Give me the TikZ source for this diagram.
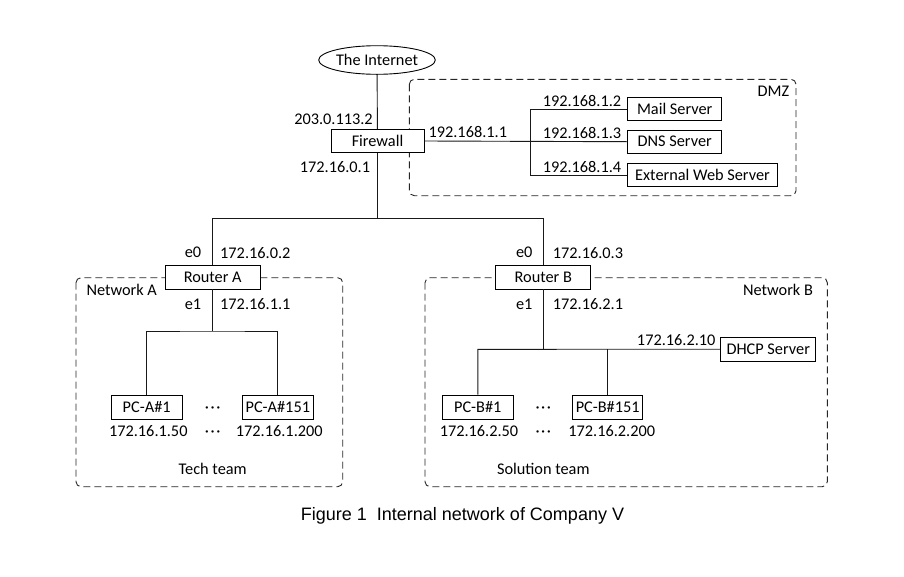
\documentclass[tikz,border=0pt]{standalone}
\usepackage{fontspec}
\setmainfont{Carlito}
\newfontfamily\capfont{Liberation Sans}
\usetikzlibrary{shapes.geometric}
\newcommand{\mydots}{\vphantom{1}·\kern1.6pt·\kern1.6pt·}
\begin{document}
\begin{tikzpicture}[x=1pt,y=-1pt,
  font=\fontsize{16.3}{19}\selectfont,
  box/.style={draw=black,fill=white,line width=0.9pt,inner sep=0pt,minimum height=23.5pt},
  lbl/.style={inner sep=0pt},
  conn/.style={draw=black!90,line width=0.9pt},
  zone/.style={draw=black!85,line width=0.9pt,dash pattern=on 7pt off 4pt,rounded corners=5pt}]
\useasboundingbox (0,0) rectangle (904,576);
% zones
\draw[zone] (409.3,79.3) rectangle (796,195.7);
\draw[zone] (76,277.7) rectangle (342.7,486.7);
\draw[zone] (425,277.7) rectangle (827.3,486.7);
% nodes
\node[ellipse,draw=black,line width=0.9pt,minimum width=116.6pt,minimum height=28.6pt,inner sep=0pt] (inet) at (377,60) {The Internet};
\node[box,minimum width=93pt] (fw) at (377.5,141) {Firewall};
\node[box,minimum width=94pt] (mail) at (674.7,109) {Mail Server};
\node[box,minimum width=94pt] (dns) at (674.7,141.7) {DNS Server};
\node[box,minimum width=149.6pt] (web) at (702.5,175) {External Web Server};
\node[box,minimum width=95pt,minimum height=24pt] (ra) at (212.7,277) {Router A};
\node[box,minimum width=95pt,minimum height=24pt] (rb) at (543.3,277) {Router B};
\node[box,minimum width=71pt,minimum height=24pt] (pa1) at (146.7,407) {PC-A\#1};
\node[box,minimum width=71pt,minimum height=24pt] (pa2) at (277.8,407) {PC-A\#151};
\node[box,minimum width=71pt,minimum height=24pt] (pb1) at (477.8,407) {PC-B\#1};
\node[box,minimum width=70pt,minimum height=24pt] (pb2) at (607.7,407) {PC-B\#151};
\node[box,minimum width=95pt] (dhcp) at (768.2,349.2) {DHCP Server};
% coordinates
\coordinate (bus) at (377.5,218.3);
\coordinate (dmzx) at (530,142);
\coordinate (ja) at (212.7,331);
\coordinate (jb) at (543.3,349.3);
% connectors
\draw[conn] (inet) -- (fw);
\draw[conn] (fw.south) -- (bus);
\draw[conn] (ra.north) |- (bus) -| (rb.north);
\draw[conn] (fw.east) -- (dns.west);
\draw[conn] (mail.west) -- (mail.west -| dmzx) -- (web.west -| dmzx) -- (web.west);
\draw[conn] (ra.south) -- (ja);
\draw[conn] (pa1.north) |- (ja) -| (pa2.north);
\draw[conn] (rb.south) -- (jb);
\draw[conn] (pb1.north) |- (jb) -- (dhcp.west);
\draw[conn] (pb2.north) -- (pb2.north |- jb);
% labels
\node[lbl] (l1) at (333.5,119.3) {203.0.113.2};
\node[lbl] (l2) at (335,167.3) {172.16.0.1};
\node[lbl] (l3) at (467.8,131.7) {192.168.1.1};
\node[lbl] (l4) at (582,100.7) {192.168.1.2};
\node[lbl] (l5) at (582,133.3) {192.168.1.3};
\node[lbl] (l6) at (582,166.7) {192.168.1.4};
\node[lbl] (dmz) at (773.5,91.7) {DMZ};
\node[lbl] (a0) at (193,252.7) {e0};
\node[lbl] (a0ip) at (255.3,252.7) {172.16.0.2};
\node[lbl] (a1) at (193,304) {e1};
\node[lbl] (a1ip) at (255.3,304) {172.16.1.1};
\node[lbl] (neta) at (121.7,290) {Network A};
\node[lbl] (b0) at (524.2,252.7) {e0};
\node[lbl] (b0ip) at (588,252.7) {172.16.0.3};
\node[lbl] (b1) at (524.2,304) {e1};
\node[lbl] (b1ip) at (588,304) {172.16.2.1};
\node[lbl] (netb) at (778,290) {Network B};
\node[lbl] (dhip) at (676.2,340) {172.16.2.10};
\node[lbl] (da1) at (212.7,407) {\mydots};
\node[lbl] (da2) at (212.7,431) {\mydots};
\node[lbl] (ipa1) at (148.3,431) {172.16.1.50};
\node[lbl] (ipa2) at (279.3,431) {172.16.1.200};
\node[lbl] (db1) at (543.3,407) {\mydots};
\node[lbl] (db2) at (543.3,431) {\mydots};
\node[lbl] (ipb1) at (479,431) {172.16.2.50};
\node[lbl] (ipb2) at (611.7,431) {172.16.2.200};
\node[lbl] (tech) at (212.7,469) {Tech team};
\node[lbl] (sol) at (543.3,469) {Solution team};
\node[lbl,font=\capfont\fontsize{18}{21}\selectfont] (cap) at (462.5,515.7) {Figure 1\ \ Internal network of Company V};
\end{tikzpicture}
\end{document}
